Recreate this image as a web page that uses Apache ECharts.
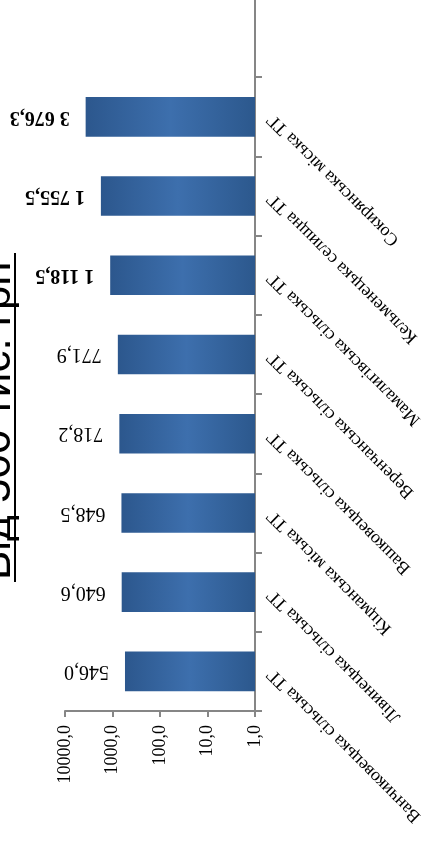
<!DOCTYPE html>
<html>
<head>
<meta charset="utf-8">
<style>
html,body{margin:0;padding:0;background:#fff;}
#chart{width:427px;height:849px;}
</style>
<script src="https://cdn.jsdelivr.net/npm/echarts@6/dist/echarts.min.js"></script>
</head>
<body>
<div id="chart"></div>
<script>
const titleText = 'Від 500 тис. грн';
const categories = [
  'Ванчиковецька сільська ТГ',
  'Лівинецька сільська ТГ',
  'Кіцманська міська ТГ',
  'Вашковецька сільська ТГ',
  'Веренчанська сільська ТГ',
  'Мамалигівська сільська ТГ',
  'Кельменецька селищна ТГ',
  'Сокирянська міська ТГ',
  ''
];
const values = [546.0, 640.6, 648.5, 718.2, 771.9, 1118.5, 1755.5, 3676.3];
const axisMin = 1;
const axisMax = 10000;

function fmtValue(v) {
  const s = v.toFixed(1).split('.');
  const intPart = s[0].replace(/\B(?=(\d{3})+(?!\d))/g, ' ');
  return intPart + ',' + s[1];
}

const serif = '"Liberation Serif", "Times New Roman", serif';
const chart = echarts.init(document.getElementById('chart'), null, {renderer: 'canvas'});

const barData = values.map(v => ({
  value: v,
  label: { fontWeight: v >= 1000 ? 'bold' : 'normal' }
}));

chart.setOption({
  animation: false,
  backgroundColor: '#ffffff',
  grid: {
    left: 65, right: 172, top: -2, bottom: 138,
    containLabel: false,
    outerBoundsMode: 'none'
  },
  xAxis: {
    type: 'log',
    logBase: 10,
    min: axisMin,
    max: axisMax,
    inverse: true,
    position: 'bottom',
    axisLine: { show: true, onZero: false, lineStyle: { color: '#868686', width: 2 } },
    axisTick: { show: true, length: 6, lineStyle: { color: '#868686', width: 2 } },
    splitLine: { show: false },
    minorTick: { show: false },
    axisLabel: {
      rotate: 90,
      margin: 14,
      color: '#000',
      fontFamily: serif,
      fontSize: 18,
      formatter: v => Number(v).toFixed(1).replace('.', ',')
    }
  },
  yAxis: {
    type: 'category',
    data: categories,
    position: 'right',
    axisLine: { show: true, onZero: false, lineStyle: { color: '#868686', width: 2 } },
    axisTick: { show: true, length: 7, alignWithLabel: false, lineStyle: { color: '#868686', width: 2 } },
    splitLine: { show: false },
    axisLabel: {
      rotate: 135,
      margin: 15,
      interval: 0,
      color: '#000',
      fontFamily: serif,
      fontSize: 18,
      hideOverlap: false
    }
  },
  series: [{
    type: 'bar',
    data: barData,
    barWidth: '50%',
    itemStyle: {
      color: new echarts.graphic.LinearGradient(0, 0, 1, 0, [
        { offset: 0, color: '#2c578d' },
        { offset: 0.5, color: '#3d6fad' },
        { offset: 1, color: '#2c588d' }
      ])
    },
    label: {
      show: true,
      position: 'left',
      distance: 16,
      rotate: 180,
      align: 'left',
      verticalAlign: 'middle',
      color: '#000',
      fontFamily: serif,
      fontSize: 20,
      formatter: p => fmtValue(p.value)
    }
  }],
  graphic: [
    {
      type: 'text',
      x: 20,
      y: 580,
      rotation: Math.PI / 2,
      style: {
        text: titleText,
        font: '44px "Liberation Sans", Arial, sans-serif',
        fill: '#000',
        textAlign: 'left',
        textVerticalAlign: 'bottom'
      }
    },
    {
      type: 'line',
      shape: { x1: 15, y1: 253, x2: 15, y2: 582 },
      style: { stroke: '#000', lineWidth: 2 }
    }
  ]
});
</script>
</body>
</html>
